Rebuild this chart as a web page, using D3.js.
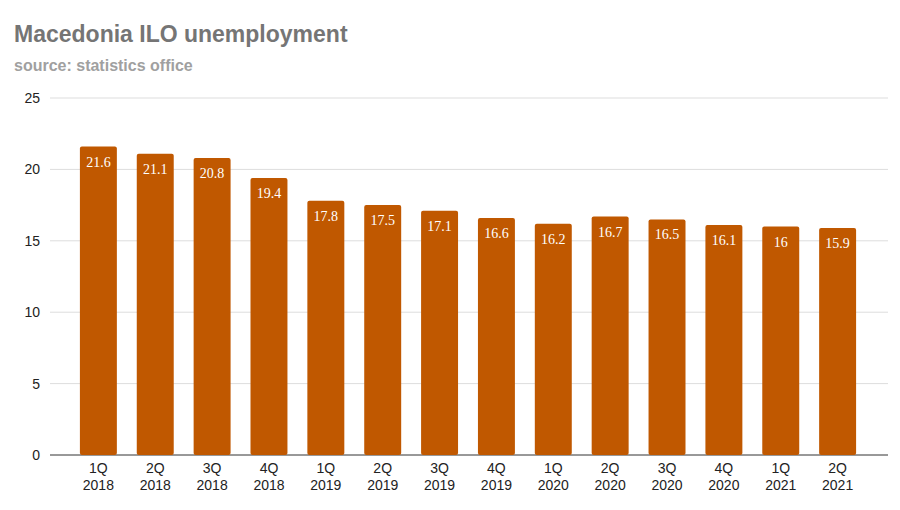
<!DOCTYPE html>
<html><head><meta charset="utf-8">
<script src="https://cdn.jsdelivr.net/npm/d3@7"></script>
<style>body{margin:0;background:#fff;font-family:Arial,"Liberation Sans",sans-serif}</style>
</head><body><svg id="chart" width="900" height="510"></svg>
<script>
const quarters = ["1Q","2Q","3Q","4Q","1Q","2Q","3Q","4Q","1Q","2Q","3Q","4Q","1Q","2Q"];
const years = ["2018","2018","2018","2018","2019","2019","2019","2019","2020","2020","2020","2020","2021","2021"];
const rates = [21.6,21.1,20.8,19.4,17.8,17.5,17.1,16.6,16.2,16.7,16.5,16.1,16,15.9];
const yTicks = [0,5,10,15,20,25];

const svg = d3.select("#chart");
const idx = d3.range(rates.length);
const x = d3.scaleBand().domain(idx).range([60, 876]).padding(0.35);
const y = d3.scaleLinear().domain([0, 25]).range([455, 98]);

svg.append("text").attr("x", 14).attr("y", 42).attr("font-size", 23).attr("font-weight", "bold")
  .attr("fill", "#757575").text("Macedonia ILO unemployment");
svg.append("text").attr("x", 14).attr("y", 71).attr("font-size", 16).attr("font-weight", "bold")
  .attr("fill", "#a0a0a0").text("source: statistics office");

svg.append("g").selectAll("line").data(yTicks).join("line")
  .attr("x1", 50).attr("x2", 888).attr("y1", d => y(d)).attr("y2", d => y(d))
  .attr("stroke", d => d === 0 ? "#333" : "#ddd").attr("stroke-width", 1);
svg.append("g").selectAll("text").data(yTicks).join("text")
  .attr("x", 40).attr("y", d => y(d) + 5).attr("text-anchor", "end")
  .attr("font-size", 14).attr("fill", "#222").text(d => d);

svg.append("g").selectAll("rect").data(idx).join("rect")
  .attr("x", i => x(i)).attr("width", x.bandwidth())
  .attr("y", i => y(rates[i])).attr("height", i => y(0) - y(rates[i]))
  .attr("rx", 2).attr("fill", "#c05800");

svg.append("g").selectAll("text").data(idx).join("text")
  .attr("x", i => x(i) + x.bandwidth() / 2).attr("y", i => y(rates[i]) + 20)
  .attr("text-anchor", "middle").attr("font-family", "'Liberation Serif','DejaVu Serif',serif")
  .attr("font-size", 14).attr("fill", "#fff").text(i => rates[i]);

const xl = svg.append("g").selectAll("text").data(idx).join("text")
  .attr("text-anchor", "middle").attr("font-size", 14).attr("fill", "#222");
xl.append("tspan").attr("x", i => x(i) + x.bandwidth() / 2).attr("y", 473).text(i => quarters[i]);
xl.append("tspan").attr("x", i => x(i) + x.bandwidth() / 2).attr("y", 490).text(i => years[i]);
</script></body></html>
